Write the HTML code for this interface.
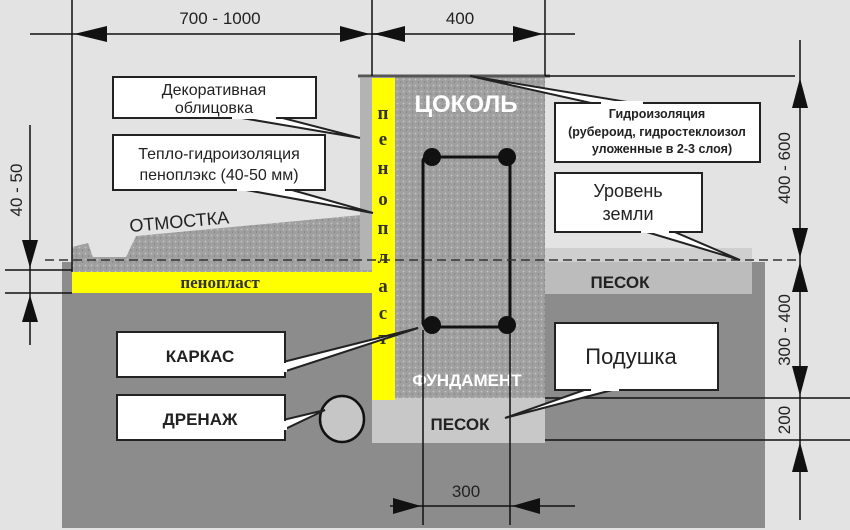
<!DOCTYPE html>
<html><head><meta charset="utf-8"><style>
html,body{margin:0;padding:0;background:#e3e3e3}
svg{display:block}
text{font-family:"Liberation Sans",sans-serif}
text.s{font-family:"Liberation Serif",serif}
</style></head><body>
<svg width="850" height="530" viewBox="0 0 850 530">
<defs>
<pattern id="gr" width="6" height="6" patternUnits="userSpaceOnUse">
<rect width="6" height="6" fill="#a0a0a0"/><circle cx="1.5" cy="1.5" r="0.9" fill="#c4c4c4"/><circle cx="4.5" cy="4" r="0.8" fill="#808080"/>
</pattern>
</defs>
<rect width="850" height="530" fill="#e3e3e3"/>
<rect x="62" y="262" width="703" height="266" fill="#8c8c8c"/>
<rect x="545" y="248" width="207" height="14" fill="#cfcfcf"/>
<rect x="545" y="262" width="207" height="32" fill="#bcbcbc"/>
<polygon points="72,272 72,247 88,243 93,257 126,257 136,236 372,214 372,272" fill="url(#gr)"/>
<rect x="72" y="272" width="300" height="21" fill="#ffff00"/>
<text class="s" x="220" y="288" font-size="17" font-weight="bold" fill="#333" text-anchor="middle">пенопласт</text>
<rect x="360" y="78" width="12" height="192" fill="#b3b3b3"/>
<rect x="395" y="76" width="150" height="322" fill="url(#gr)"/>
<rect x="372" y="398" width="173" height="45" fill="#c8c8c8"/>
<rect x="372" y="78" width="23" height="322" fill="#ffff00"/>
<line x1="358" y1="76" x2="550" y2="76" stroke="#555" stroke-width="3"/>
<g font-size="19" font-weight="bold" fill="#333" text-anchor="middle">
<text class="s" x="383" y="119">п</text><text class="s" x="383" y="145">е</text><text class="s" x="383" y="174">н</text><text class="s" x="383" y="205">о</text><text class="s" x="383" y="234">п</text><text class="s" x="383" y="263">л</text><text class="s" x="383" y="292">а</text><text class="s" x="383" y="319">с</text><text class="s" x="383" y="344">т</text>
</g>
<text x="466" y="112" font-size="24" font-weight="bold" fill="#fff" text-anchor="middle">ЦОКОЛЬ</text>
<text x="467" y="386" font-size="17" font-weight="bold" fill="#fff" text-anchor="middle">ФУНДАМЕНТ</text>
<text x="460" y="430" font-size="17" font-weight="bold" fill="#222" text-anchor="middle">ПЕСОК</text>
<text x="620" y="288" font-size="17" font-weight="bold" fill="#222" text-anchor="middle">ПЕСОК</text>
<rect x="423" y="157" width="87" height="170" fill="none" stroke="#111" stroke-width="3" rx="4"/>
<g fill="#111"><circle cx="432" cy="157" r="9"/><circle cx="507" cy="157" r="9"/><circle cx="432" cy="325" r="9"/><circle cx="507" cy="325" r="9"/></g>
<ellipse cx="342" cy="419" rx="22" ry="23" fill="#c6c6c6" stroke="#111" stroke-width="2.5"/>
<g stroke="#111" stroke-width="1.5" fill="none">
<line x1="72" y1="0" x2="72" y2="272"/><line x1="372" y1="0" x2="372" y2="76"/><line x1="545" y1="0" x2="545" y2="76"/>
<line x1="30" y1="34" x2="400" y2="34"/><line x1="372" y1="34" x2="575" y2="34"/>
<line x1="545" y1="76" x2="795" y2="76"/>
<line x1="800" y1="40" x2="800" y2="520"/>
<line x1="545" y1="398" x2="850" y2="398"/><line x1="545" y1="440" x2="850" y2="440"/>
<line x1="30" y1="125" x2="30" y2="345"/>
<line x1="5" y1="270" x2="72" y2="270"/><line x1="5" y1="293" x2="72" y2="293"/>
<line x1="423" y1="330" x2="423" y2="525"/><line x1="510" y1="330" x2="510" y2="525"/>
<line x1="390" y1="506" x2="575" y2="506"/>
</g>
<line x1="45" y1="260" x2="800" y2="260" stroke="#333" stroke-width="1.5" stroke-dasharray="9,5"/>
<g fill="#111">
<polygon points="74,34 107,26 107,42"/><polygon points="370,34 340,26 340,42"/>
<polygon points="374,34 405,26 405,42"/><polygon points="543,34 513,26 513,42"/>
<polygon points="800,78 792,108 808,108"/><polygon points="800,258 792,228 808,228"/>
<polygon points="800,262 792,292 808,292"/><polygon points="800,396 792,366 808,366"/>
<polygon points="800,442 792,472 808,472"/>
<polygon points="30,268 22,240 38,240"/><polygon points="30,295 22,322 38,322"/>
<polygon points="421,506 393,498 393,514"/><polygon points="512,506 540,498 540,514"/>
</g>
<g font-size="17" fill="#222" text-anchor="middle">
<text x="220" y="24">700 - 1000</text>
<text x="460" y="24">400</text>
<text x="466" y="497">300</text>
<text transform="translate(22,190) rotate(-90)">40 - 50</text>
<text transform="translate(790,168) rotate(-90)">400 - 600</text>
<text transform="translate(790,330) rotate(-90)">300 - 400</text>
<text transform="translate(790,420) rotate(-90)">200</text>
</g>
<text x="130" y="232" font-size="18" fill="#222" transform="rotate(-5 130 232)">ОТМОСТКА</text>
<g fill="#fff" stroke="#222" stroke-width="2">
<polygon points="230,116 275,116 360,138"/>
<polygon points="235,188 285,188 373,213"/>
<polygon points="600,105 645,105 470,76"/>
<polygon points="640,230 670,230 740,260"/>
<polygon points="283,362 283,372 418,328"/>
<polygon points="283,420 283,430 325,410"/>
<polygon points="590,388 620,388 505,418"/>
</g>
<g fill="#fff" stroke="#222" stroke-width="2">
<rect x="113" y="77" width="203" height="41"/>
<rect x="113" y="135" width="212" height="55"/>
<rect x="555" y="103" width="205" height="59"/>
<rect x="555" y="173" width="147" height="59"/>
<rect x="117" y="332" width="168" height="45"/>
<rect x="555" y="323" width="163" height="67"/>
<rect x="117" y="395" width="168" height="45"/>
</g>
<g fill="#fff"><rect x="232" y="114" width="44" height="5"/><rect x="237" y="186" width="48" height="5"/><rect x="601" y="101" width="42" height="5"/><rect x="641" y="228" width="28" height="5"/><rect x="281" y="363" width="6" height="9"/><rect x="281" y="421" width="6" height="9"/><rect x="591" y="386" width="28" height="5"/></g>
<g font-size="16" fill="#222" text-anchor="middle">
<text x="214" y="95">Декоративная</text><text x="214" y="113">облицовка</text>
<text x="219" y="159">Тепло-гидроизоляция</text><text x="219" y="180">пеноплэкс (40-50 мм)</text>
<text x="628" y="197" font-size="18">Уровень</text><text x="628" y="220" font-size="18">земли</text>
<text x="200" y="362" font-weight="bold" font-size="17">КАРКАС</text>
<text x="200" y="425" font-weight="bold" font-size="17">ДРЕНАЖ</text>
<text x="631" y="364" font-size="22">Подушка</text>
</g>
<g font-size="12.5" font-weight="bold" fill="#222" text-anchor="middle">
<text x="657" y="118">Гидроизоляция</text>
<text x="657" y="136">(рубероид, гидростеклоизол</text>
<text x="662" y="153">уложенные в 2-3 слоя)</text>
</g>
</svg>
</body></html>
